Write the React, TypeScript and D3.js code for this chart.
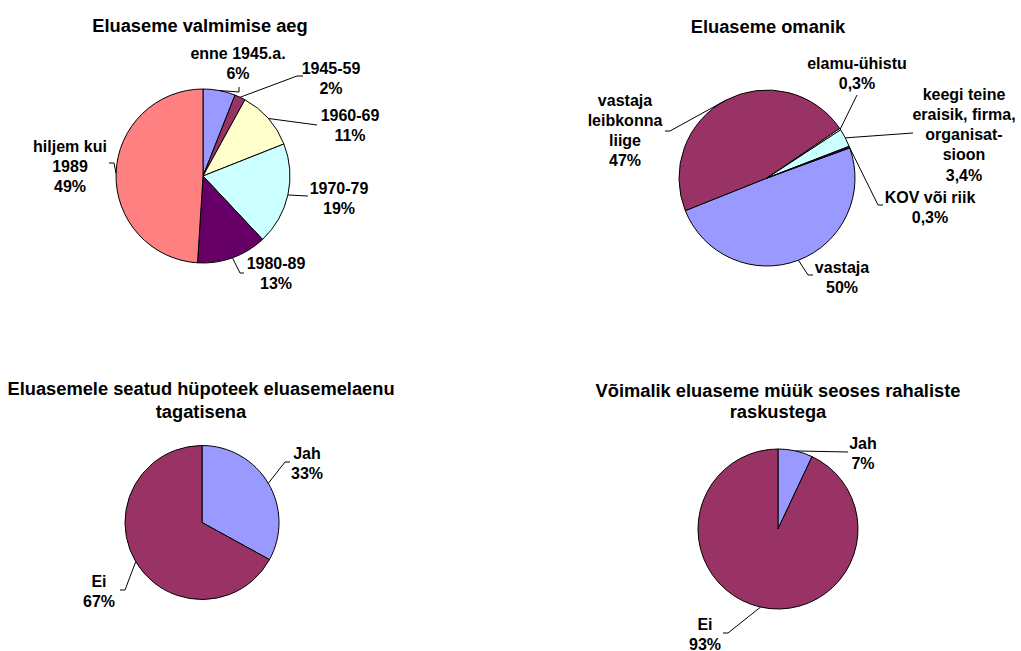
import React from "react";
import * as d3 from "d3";

// ---- data ----
const c1Title = ["Eluaseme valmimise aeg"];
const c1Cats = [["enne 1945.a."], ["1945-59"], ["1960-69"], ["1970-79"], ["1980-89"], ["hiljem kui", "1989"]];
const c1Vals = [6, 2, 11, 19, 13, 49];

const c2Title = ["Eluaseme omanik"];
const c2Cats = [["vastaja"], ["vastaja", "leibkonna", "liige"], ["elamu-ühistu"], ["keegi teine", "eraisik, firma,", "organisat-", "sioon"], ["KOV või riik"]];
const c2Vals = [50, 47, 0.3, 3.4, 0.3];

const c3Title = ["Eluasemele seatud hüpoteek eluasemelaenu", "tagatisena"];
const c3Cats = [["Jah"], ["Ei"]];
const c3Vals = [33, 67];

const c4Title = ["Võimalik eluaseme müük seoses rahaliste", "raskustega"];
const c4Cats = [["Jah"], ["Ei"]];
const c4Vals = [7, 93];

const palette = ["#9999FF", "#993366", "#FFFFCC", "#CCFFFF", "#660066", "#FF8080"];
const c1Colors = ["#9999FF", "#993366", "#FFFFCC", "#CCFFFF", "#660066", "#FF8080"];

// ---- layout ----
type LabelLayout = { x: number; y: number; path: [number, number][] };
type ChartLayout = {
  cx: number; cy: number; r: number; start: number;
  titleX: number; titleY: number[];
  labels: LabelLayout[];
};

const layouts: ChartLayout[] = [
  {
    cx: 203, cy: 176, r: 87, start: 0, titleX: 200, titleY: [32],
    labels: [
      { x: 238, y: 53, path: [[239, 92], [239, 87]] },
      { x: 331, y: 68, path: [[297, 76], [303, 76]] },
      { x: 350, y: 115, path: [[317, 125]] },
      { x: 339, y: 188, path: [[308, 196]] },
      { x: 276, y: 263, path: [[240, 273], [244, 273]] },
      { x: 70, y: 146, path: [[114, 163], [109, 163]] },
    ],
  },
  {
    cx: 767, cy: 178, r: 88, start: 70, titleX: 768, titleY: [33],
    labels: [
      { x: 842, y: 267, path: [[808, 275], [813, 275]] },
      { x: 625, y: 100, path: [[670, 131], [665, 131]] },
      { x: 857, y: 63, path: [[857, 95]] },
      { x: 964, y: 94, path: [[913, 133]] },
      { x: 930, y: 197, path: [[878, 205], [883, 205]] },
    ],
  },
  {
    cx: 202, cy: 522.5, r: 77, start: 0, titleX: 201, titleY: [395, 418],
    labels: [
      { x: 307, y: 453, path: [[285, 462], [290, 462]] },
      { x: 99, y: 581, path: [[125, 590], [120, 590]] },
    ],
  },
  {
    cx: 778, cy: 529, r: 80, start: 0, titleX: 778, titleY: [397, 418],
    labels: [
      { x: 863, y: 443, path: [[848, 452]] },
      { x: 705, y: 624, path: [[728, 633], [723, 633]] },
    ],
  },
];

const charts = [
  { title: c1Title, cats: c1Cats, vals: c1Vals, colors: c1Colors },
  { title: c2Title, cats: c2Cats, vals: c2Vals, colors: palette },
  { title: c3Title, cats: c3Cats, vals: c3Vals, colors: palette },
  { title: c4Title, cats: c4Cats, vals: c4Vals, colors: palette },
];

const FONT = "'Liberation Sans', Arial, sans-serif";
const LABEL_SIZE = 16;
const LINE_H = 20.3;

const fmtPct = (v: number) => String(v).replace(".", ",") + "%";

function PieChart({ chart, layout }: { chart: typeof charts[0]; layout: ChartLayout }) {
  const toRad = (deg: number) => (deg * Math.PI) / 180;
  const pie = d3.pie<number>().sort(null).value((d) => d)
    .startAngle(toRad(layout.start)).endAngle(toRad(layout.start) + 2 * Math.PI);
  const arcs = pie(chart.vals);
  const arc = d3.arc<d3.PieArcDatum<number>>().innerRadius(0).outerRadius(layout.r);
  const line = d3.line();
  return (
    <g>
      {chart.title.map((t, i) => (
        <text key={"t" + i} x={layout.titleX} y={layout.titleY[i]} textAnchor="middle"
          fontFamily={FONT} fontWeight="bold" fontSize={18.3} fill="#000">{t}</text>
      ))}
      <g transform={`translate(${layout.cx},${layout.cy})`}>
        {arcs.map((a, i) => (
          <path key={i} d={arc(a) || ""} fill={chart.colors[i % chart.colors.length]} stroke="#000" strokeWidth={1} strokeLinejoin="round" />
        ))}
      </g>
      {arcs.map((a, i) => {
        const L = layout.labels[i];
        const mid = (a.startAngle + a.endAngle) / 2;
        const p0: [number, number] = [layout.cx + layout.r * Math.sin(mid), layout.cy - layout.r * Math.cos(mid)];
        const pts: [number, number][] = [p0, ...L.path];
        const lines = [...chart.cats[i], fmtPct(chart.vals[i])];
        return (
          <g key={"l" + i}>
            <path d={line(pts) || ""} fill="none" stroke="#000" strokeWidth={1} />
            {lines.map((s, j) => (
              <text key={j} x={L.x} y={L.y + j * LINE_H + 5.5} textAnchor="middle"
                fontFamily={FONT} fontWeight="bold" fontSize={LABEL_SIZE} fill="#000">{s}</text>
            ))}
          </g>
        );
      })}
    </g>
  );
}

export default function App() {
  return (
    <svg width={1021} height={651} style={{ position: "absolute", left: 0, top: 0, background: "#fff" }}>
      <rect width={1021} height={651} fill="#fff" />
      {charts.map((c, i) => (
        <PieChart key={i} chart={c} layout={layouts[i]} />
      ))}
    </svg>
  );
}
